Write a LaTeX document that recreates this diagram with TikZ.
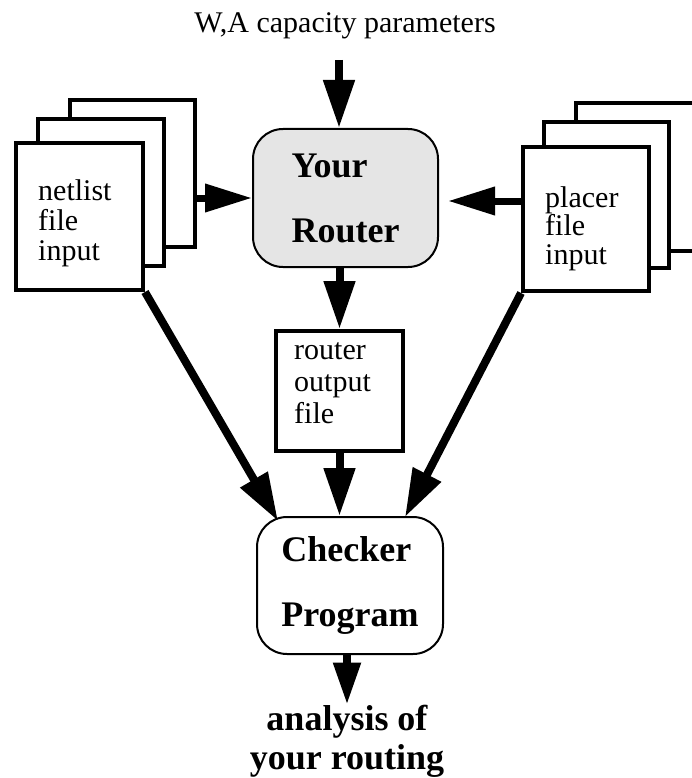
\documentclass[tikz,border=0pt]{standalone}
\usepackage{fontspec}
\setmainfont{Liberation Serif}
\usetikzlibrary{arrows.meta, positioning, calc}

\begin{document}
\begin{tikzpicture}[
    x=1pt, y=-1pt,
    sheet/.style={
        rectangle,
        draw=black,
        line width=4pt,
        fill=white,
        inner sep=0pt
    },
    blob/.style={
        rectangle,
        rounded corners=30pt,
        draw=black,
        line width=2pt,
        fill=#1,
        inner sep=0pt,
        align=left,
        font=\fontsize{36}{65}\selectfont\bfseries
    },
    arrow/.style={-{Triangle[length=48pt, width=30pt]}, line width=8pt},
    txt/.style={anchor=base west, align=left, inner sep=0pt, font=\fontsize{30}{30}\selectfont}
]
\useasboundingbox (0,0) rectangle (691,778);

% Input parameters on top
\node[anchor=base, inner sep=0pt, font=\fontsize{30}{30}\selectfont] (params) at (345,33) {W,A capacity parameters};
\coordinate (paramsfoot) at (339,60);

% Netlist stack
\node[sheet, minimum width=125pt, minimum height=147pt] (netlistback) at (132.5,173.5) {};
\node[sheet, minimum width=126pt, minimum height=147pt] (netlistmid) at (101,192.5) {};
\node[sheet, minimum width=127pt, minimum height=147pt] (netlist) at (79.5,216.5) {};
\node[txt] (netlisttext) at (38,260) {netlist\\file\\input};

% Placer stack
\node[sheet, minimum width=129pt, minimum height=148pt] (placerback) at (640.5,177) {};
\node[sheet, minimum width=125pt, minimum height=146pt] (placermid) at (606.5,195) {};
\node[sheet, minimum width=126pt, minimum height=144pt] (placer) at (586,219) {};
\node[txt, font=\fontsize{30}{28.5}\selectfont] (placertext) at (545,264) {placer\\file\\input};

% Router and its output
\node[blob=gray!20, minimum width=185pt, minimum height=138pt] (router) at (345.5,198) {Your\\Router};
\node[sheet, minimum width=127pt, minimum height=120pt] (output) at (339.5,391) {};
\node[txt, font=\fontsize{30}{32}\selectfont] (outputtext) at (294,423) {router\\output\\file};

% Checker
\node[blob=white, minimum width=186pt, minimum height=137pt] (checker) at (350,585.5) {Checker\\Program};
\node[align=center, inner sep=0pt, font=\fontsize{36}{39}\selectfont\bfseries] (analysis) at (347,741) {analysis of\\your routing};

% Arrows into the router
\draw[arrow] (paramsfoot) -- (paramsfoot |- router.north);
\draw[arrow, -{Triangle[length=47pt, width=27pt]}, line width=7pt] (netlistback.east |- router.west) -- (router.west);
\draw[arrow, -{Triangle[length=47pt, width=27pt]}, line width=7pt] ([yshift=18pt]placer.west) -- ([xshift=9pt, yshift=-3pt]router.east);

% Router to output file
\draw[arrow] (output.north |- router.south) -- (output.north);

% Arrows into the checker
\draw[arrow] (output.south) -- (output.south |- checker.north);
\draw[arrow] (netlist.south east) -- ([xshift=-72pt, yshift=-5pt]checker.north);
\draw[arrow] (placer.south west) -- ([xshift=55pt, yshift=-1pt]checker.north);

% Result
\draw[arrow, -{Triangle[length=42pt, width=26pt]}] (checker.south -| analysis.north) -- (analysis.north);

\end{tikzpicture}
\end{document}
